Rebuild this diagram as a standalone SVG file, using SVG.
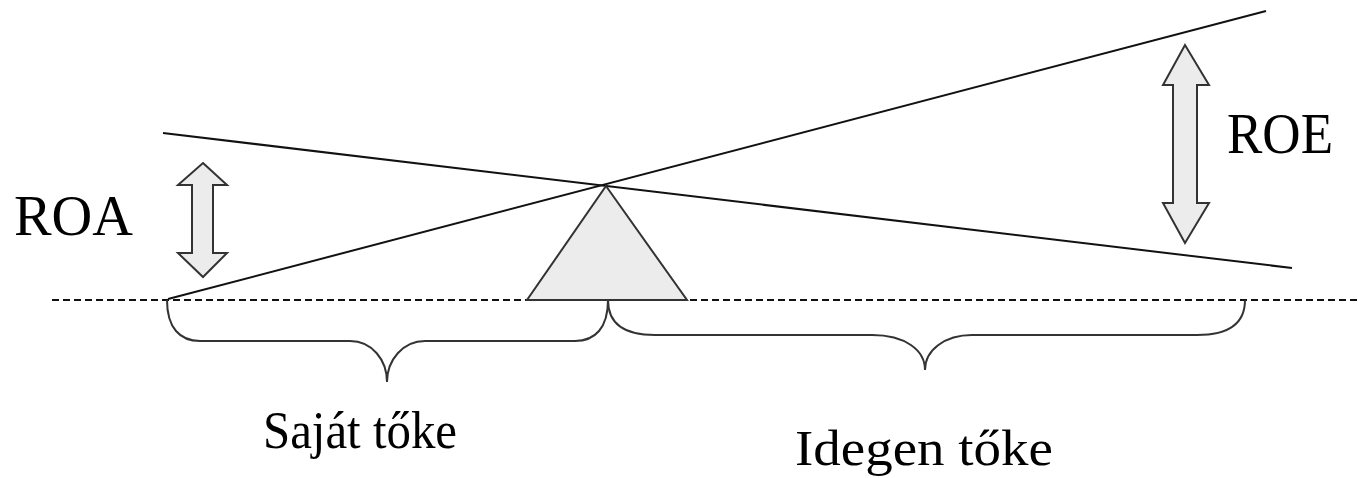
<svg xmlns="http://www.w3.org/2000/svg" width="1358" height="478" viewBox="0 0 1358 478">
<style>
.line{stroke:#111;stroke-width:2;fill:none}
.dash{stroke:#111;stroke-width:2;stroke-dasharray:7 4;fill:none}
.shape{fill:#ececec;stroke:#333;stroke-width:2;stroke-linejoin:miter}
.brace{stroke:#333;stroke-width:2;fill:none}
.lbl{font-family:"Liberation Serif","Times New Roman",serif;fill:#000}
</style>
<rect width="1358" height="478" fill="#fff"/>
<g id="connectors">
<line class="dash" x1="52" y1="300" x2="1358" y2="300"/>
<line class="line" x1="168" y1="299" x2="1266" y2="11"/>
<line class="line" x1="163" y1="133" x2="1292" y2="268"/>
</g>
<g id="fulcrum">
<polygon class="shape" points="606,186 687,300 527,300"/>
</g>
<g id="roa-arrow">
<path class="shape" d="M203,163 L227,185 L213,185 L213,253 L227,253 L203,277 L178,253 L192,253 L192,185 L178,185 Z"/>
</g>
<g id="roe-arrow">
<path class="shape" d="M1185,45 L1209,85 L1197,85 L1197,203 L1209,203 L1185,243 L1163,203 L1173,203 L1173,85 L1163,85 Z"/>
</g>
<g id="brace-sajat">
<path class="brace" d="M167,300 C167,328 180,341 200,341 L350,341 C372,341 387,360 387,382 C387,360 403,341 425,341 L575,341 C595,341 608,328 608,300"/>
</g>
<g id="brace-idegen">
<path class="brace" d="M608,300 C608,324 625,335 655,335 L872,335 C905,335 925,350 925,370 C925,350 945,335 972,335 L1197,335 C1228,335 1245,324 1245,300"/>
</g>
<g id="label-roa"><text class="lbl" x="14" y="235" font-size="57" textLength="119" lengthAdjust="spacingAndGlyphs">ROA</text></g>
<g id="label-roe"><text class="lbl" x="1227" y="153" font-size="57" textLength="106" lengthAdjust="spacingAndGlyphs">ROE</text></g>
<g id="label-sajat"><text class="lbl" x="263" y="448" font-size="53" textLength="194" lengthAdjust="spacingAndGlyphs">Saját tőke</text></g>
<g id="label-idegen"><text class="lbl" x="795" y="465" font-size="50" textLength="258" lengthAdjust="spacingAndGlyphs">Idegen tőke</text></g>
</svg>
